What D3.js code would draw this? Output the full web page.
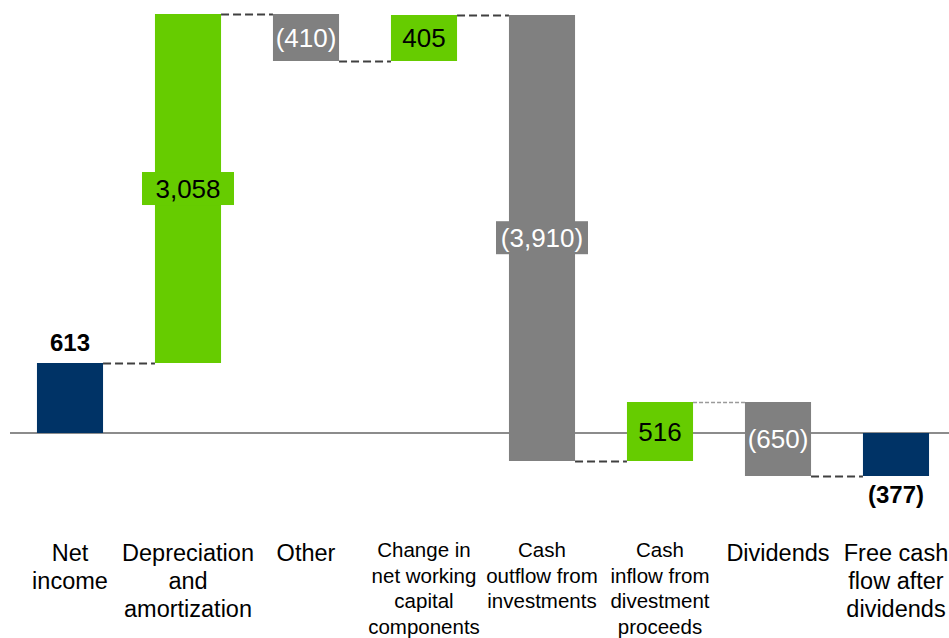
<!DOCTYPE html>
<html><head><meta charset="utf-8">
<script src="https://cdn.jsdelivr.net/npm/d3@7"></script>
<style>body{margin:0;background:#fff}svg{display:block}</style>
</head><body>
<script>
const categories = [
  ["Net","income"],
  ["Depreciation","and","amortization"],
  ["Other"],
  ["Change in","net working","capital","components"],
  ["Cash","outflow from","investments"],
  ["Cash","inflow from","divestment","proceeds"],
  ["Dividends"],
  ["Free cash","flow after","dividends"]
];
const values = [613, 3058, -410, 405, -3910, 516, -650, -377];
const kinds = ["total","up","down","up","down","up","down","total"];
const valueLabels = ["613","3,058","(410)","405","(3,910)","516","(650)","(377)"];

const W = 949, H = 638;
const svg = d3.select("body").append("svg").attr("width", W).attr("height", H);
const font = "Arial, 'Liberation Sans', sans-serif";
const colors = {total:"#003366", up:"#66cc00", down:"#808080"};
const textColors = {total:"#000", up:"#000", down:"#fff"};

// compute waterfall
let run = 0;
const bars = values.map((v, i) => {
  let s, e;
  if (kinds[i] === "total") { s = 0; e = v; run = (i === 0) ? v : run; }
  else { s = run; e = run + v; run = e; }
  return {i, s, e, v, kind: kinds[i], label: valueLabels[i], cat: categories[i]};
});

const x = d3.scaleBand().domain(d3.range(categories.length)).range([11, 955])
  .paddingInner(0.44).paddingOuter(0.22);
const y = d3.scaleLinear().domain([0, 3671]).range([433, 14]);

// zero line
svg.append("line").attr("x1", 10).attr("x2", W).attr("y1", y(0)).attr("y2", y(0))
  .attr("stroke", "#8c8c8c").attr("stroke-width", 2);

// connectors
for (let i = 0; i < bars.length - 1; i++) {
  const lvl = bars[i].e;
  const light = (i === 5);
  svg.append("line")
    .attr("x1", x(i) + x.bandwidth()).attr("x2", x(i + 1))
    .attr("y1", Math.round(y(lvl)) + 0.5).attr("y2", Math.round(y(lvl)) + 0.5)
    .attr("stroke", light ? "#9a9a9a" : "#404040")
    .attr("stroke-width", light ? 1.3 : 2)
    .attr("stroke-dasharray", light ? "4,2" : "8,4");
}

// bars
svg.selectAll("rect.bar").data(bars).enter().append("rect").attr("class", "bar")
  .attr("x", d => x(d.i)).attr("width", x.bandwidth())
  .attr("y", d => Math.round(y(Math.max(d.s, d.e))))
  .attr("height", d => Math.round(y(Math.min(d.s, d.e))) - Math.round(y(Math.max(d.s, d.e))))
  .attr("fill", d => colors[d.kind]);

// value labels
bars.forEach(d => {
  const cx = x(d.i) + x.bandwidth() / 2;
  if (d.kind === "total") {
    const ty = d.e >= 0 ? y(d.e) - 12 : y(d.e) + 27;
    svg.append("text").attr("x", cx).attr("y", ty).attr("text-anchor", "middle")
      .attr("font-family", font).attr("font-size", 24).attr("font-weight", "bold")
      .attr("fill", "#000").text(d.label);
  } else {
    const cy = (y(d.s) + y(d.e)) / 2;
    const tall = Math.abs(y(d.s) - y(d.e)) > 100;
    if (tall) {
      const bw = 92;
      svg.append("rect").attr("x", cx - bw / 2).attr("y", cy - 16.5).attr("width", bw).attr("height", 33)
        .attr("fill", colors[d.kind]);
    }
    svg.append("text").attr("x", cx).attr("y", cy + 9.3).attr("text-anchor", "middle")
      .attr("font-family", font).attr("font-size", 26)
      .attr("fill", textColors[d.kind]).text(d.label);
  }
});

// category labels
const smallLabel = new Set([3, 4, 5]);
bars.forEach(d => {
  const cx = x(d.i) + x.bandwidth() / 2;
  const small = smallLabel.has(d.i);
  const fs = small ? 20.5 : 23.5, lh = small ? 25.5 : 28, y0 = small ? 557 : 561;
  const t = svg.append("text").attr("text-anchor", "middle")
    .attr("font-family", font).attr("font-size", fs).attr("fill", "#000");
  d.cat.forEach((line, k) => {
    t.append("tspan").attr("x", cx).attr("y", y0 + k * lh).text(line);
  });
});
</script>
</body></html>
